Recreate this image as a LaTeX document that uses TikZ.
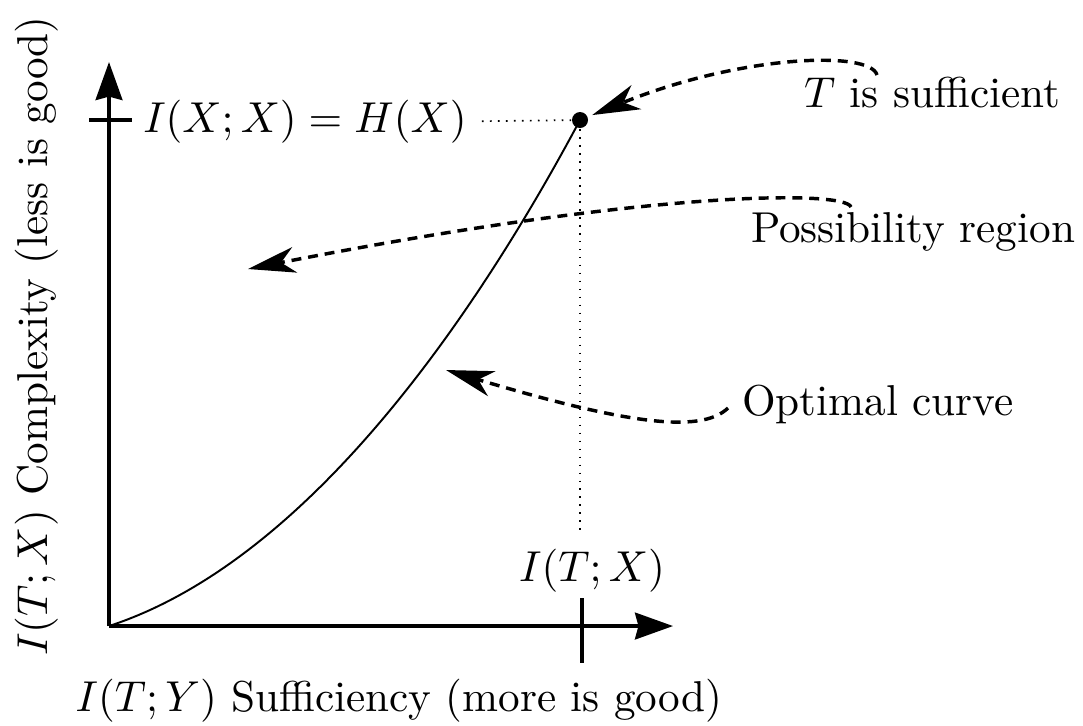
\documentclass[tikz,border=0pt]{standalone}
\usetikzlibrary{arrows.meta}
\begin{document}
\begin{tikzpicture}[x=0.2315pt,y=-0.2315pt,
  axis/.style={line width=0.8pt,-{Stealth[length=8.8pt,width=6.2pt,inset=0.8pt]}},
  tickmark/.style={line width=0.9pt},
  curveline/.style={line width=0.45pt},
  guide/.style={line width=0.4pt,dash pattern=on 0.4pt off 1.45pt},
  pointer/.style={line width=0.8pt,dash pattern=on 2.3pt off 1.6pt,-{Stealth[length=11pt,width=6pt,inset=3.2pt]}},
  dotnode/.style={circle,fill=black,inner sep=0pt,minimum size=16*0.2315pt}]
\useasboundingbox (0,0) rectangle (1083,725);
% axes
\coordinate (O) at (109,626);
\coordinate (ytip) at (109,62);
\coordinate (xtip) at (673,626);
\draw[axis] (O) -- (ytip);
\draw[axis] (O) -- (xtip);
% ticks
\coordinate (yt1) at (89,120);
\coordinate (yt2) at (132,120);
\coordinate (xt1) at (582,598);
\coordinate (xt2) at (582,663);
\draw[tickmark] (yt1) -- (yt2);
\draw[tickmark] (xt1) -- (xt2);
% labels
\node[anchor=base west] (hx) at (128,132) {$I(X;X) = H(X)$};
\node[anchor=base] (itx) at (592,581) {$I(T;X)$};
\node[anchor=base] (xlab) at (399,711) {$I(T;Y)$ Sufficiency (more is good)};
\node[anchor=base,rotate=90] (ylab) at (47,336) {$I(T;X)$ Complexity (less is good)};
\node[anchor=base] (tsuf) at (932,107) {$T$ is sufficient};
\node[anchor=base] (preg) at (913,242) {Possibility region};
\node[anchor=base] (ocur) at (878,415) {Optimal curve};
% dot and curve
\node[dotnode] (dot) at (580,120) {};
\draw[curveline] (O) .. controls (327,555) and (500,270) .. (dot.center);
\draw[guide] (hx.east) -- (dot);
\draw[guide] (dot) -- (dot |- itx.north);
% pointers
\coordinate (s1) at (877,75);
\coordinate (s2) at (851,207);
\coordinate (e2) at (248,269);
\coordinate (s3) at (728,408);
\coordinate (e3) at (446,370);
\draw[pointer,shorten >=1pt] (s1) .. controls (870,50) and (740,55) .. (dot);
\draw[pointer] (s2) .. controls (845,190) and (650,190) .. (e2);
\draw[pointer] (s3) .. controls (700,435) and (620,422) .. (e3);
\end{tikzpicture}
\end{document}
